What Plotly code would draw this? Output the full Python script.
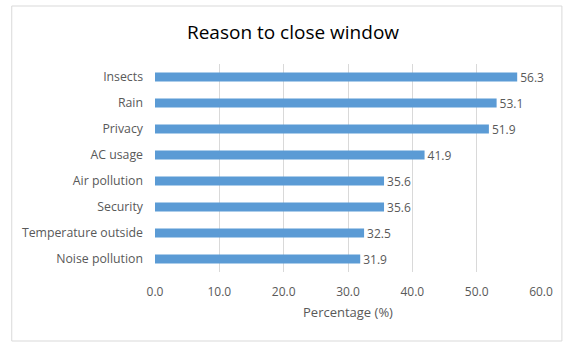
import plotly.graph_objects as go

categories = ["Insects", "Rain", "Privacy", "AC usage", "Air pollution",
              "Security", "Temperature outside", "Noise pollution"]
values = [56.3, 53.1, 51.9, 41.9, 35.6, 35.6, 32.5, 31.9]
tick_vals = [0, 10, 20, 30, 40, 50, 60]

W, H = 565, 343
L, R, T, B = 155, 22, 64, 71
pw, ph = W - L - R, H - T - B

def px_x(p):
    return (p - L) / pw

def px_y(p):
    return (H - B - p) / ph

fig = go.Figure(go.Bar(
    y=categories, x=values, orientation="h",
    marker=dict(color="#5b9bd5", line=dict(width=0)),
    width=0.34,
    text=[f"{v:.1f}" for v in values], textposition="outside",
    constraintext="none",
    textfont=dict(family="Open Sans, sans-serif", size=12, color="#595959"),
    cliponaxis=False,
))

fig.update_layout(
    width=W, height=H,
    margin=dict(l=L, r=R, t=T, b=B),
    paper_bgcolor="white", plot_bgcolor="white",
    title=dict(text="Reason to close window", x=293 / W, xanchor="center",
               xref="container", y=1 - 32 / H, yanchor="middle",
               font=dict(family="Open Sans, sans-serif", size=19, color="#000000")),
    xaxis=dict(range=[0, 60], tickvals=tick_vals, tickformat=".1f",
               showgrid=True, gridcolor="#d9d9d9", gridwidth=1,
               zeroline=False, showline=False,
               ticklabelstandoff=11,
               tickfont=dict(family="Open Sans, sans-serif", size=12, color="#595959"),
               title=dict(text="Percentage (%)", standoff=8,
                          font=dict(family="Open Sans, sans-serif", size=13, color="#595959"))),
    yaxis=dict(categoryorder="array", categoryarray=categories[::-1],
               showgrid=False, zeroline=False, showline=False,
               ticklabelstandoff=11,
               tickfont=dict(family="Open Sans, sans-serif", size=12.3, color="#595959")),
    showlegend=False,
    shapes=[dict(type="rect", xref="paper", yref="paper",
                 x0=px_x(11), x1=px_x(564), y0=px_y(341), y1=px_y(6),
                 line=dict(color="#d9d9d9", width=1), layer="below")],
)

fig.write_html("out.html")
